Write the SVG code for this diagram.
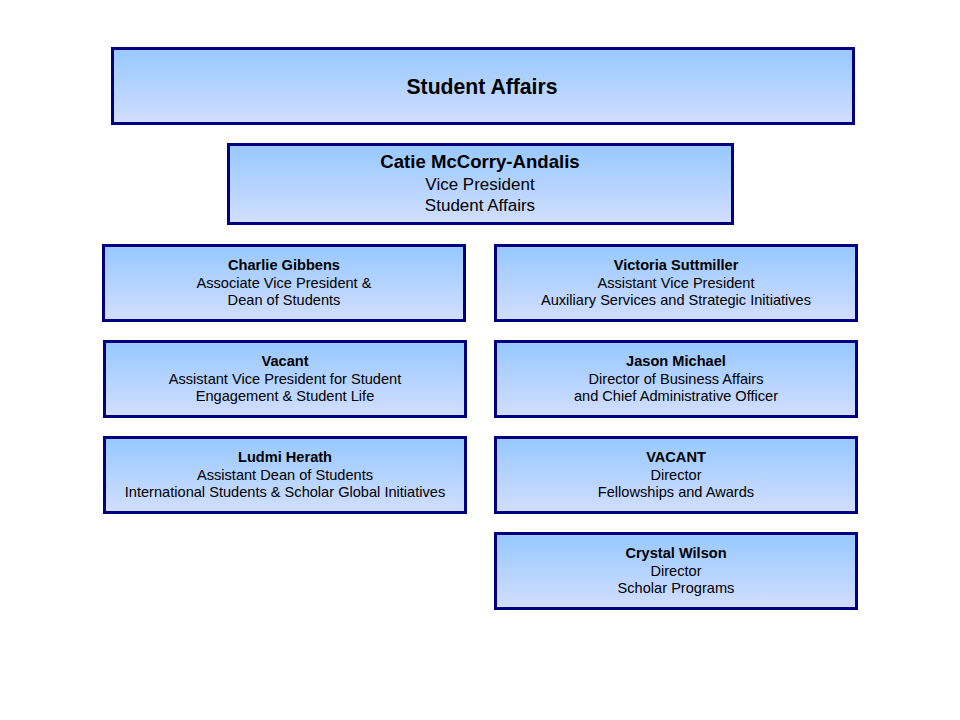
<svg xmlns="http://www.w3.org/2000/svg" width="960" height="720" viewBox="0 0 960 720">
<defs>
<linearGradient id="g" x1="0" y1="0" x2="0" y2="1">
<stop offset="0" stop-color="#96C8FF"/>
<stop offset="1" stop-color="#D2DEFF"/>
</linearGradient>
</defs>
<style>
.box{fill:url(#g);stroke:#000080;stroke-width:3}
text{font-family:"Liberation Sans",Arial,sans-serif;fill:#000;text-anchor:middle}
.b{font-weight:bold}
.s{font-size:14.6px}
</style>
<rect width="960" height="720" fill="#fff"/>
<g id="connectors"></g>
<g id="student-affairs">
<rect class="box" x="112.5" y="48.5" width="741" height="75"/>
<text class="b" x="482" y="94" font-size="21.2">Student Affairs</text>
</g>
<g id="catie">
<rect class="box" x="228.5" y="144.5" width="504" height="79"/>
<text class="b" x="480" y="168" font-size="18.6">Catie McCorry-Andalis</text>
<text x="480" y="190" font-size="17">Vice President</text>
<text x="480" y="211" font-size="17">Student Affairs</text>
</g>
<g id="charlie">
<rect class="box" x="103.5" y="245.5" width="361" height="75"/>
<text class="s b" x="284" y="270">Charlie Gibbens</text>
<text class="s" x="284" y="288">Associate Vice President &amp;</text>
<text class="s" x="284" y="305">Dean of Students</text>
</g>
<g id="victoria">
<rect class="box" x="495.5" y="245.5" width="361" height="75"/>
<text class="s b" x="676" y="270">Victoria Suttmiller</text>
<text class="s" x="676" y="288">Assistant Vice President</text>
<text class="s" x="676" y="305">Auxiliary Services and Strategic Initiatives</text>
</g>
<g id="vacant1">
<rect class="box" x="104.5" y="341.5" width="361" height="75"/>
<text class="s b" x="285" y="366">Vacant</text>
<text class="s" x="285" y="384">Assistant Vice President for Student</text>
<text class="s" x="285" y="401">Engagement &amp; Student Life</text>
</g>
<g id="jason">
<rect class="box" x="495.5" y="341.5" width="361" height="75"/>
<text class="s b" x="676" y="366">Jason Michael</text>
<text class="s" x="676" y="384">Director of Business Affairs</text>
<text class="s" x="676" y="401">and Chief Administrative Officer</text>
</g>
<g id="ludmi">
<rect class="box" x="104.5" y="437.5" width="361" height="75"/>
<text class="s b" x="285" y="462">Ludmi Herath</text>
<text class="s" x="285" y="480">Assistant Dean of Students</text>
<text class="s" x="285" y="497">International Students &amp; Scholar Global Initiatives</text>
</g>
<g id="vacant2">
<rect class="box" x="495.5" y="437.5" width="361" height="75"/>
<text class="s b" x="676" y="462">VACANT</text>
<text class="s" x="676" y="480">Director</text>
<text class="s" x="676" y="497">Fellowships and Awards</text>
</g>
<g id="crystal">
<rect class="box" x="495.5" y="533.5" width="361" height="75"/>
<text class="s b" x="676" y="558">Crystal Wilson</text>
<text class="s" x="676" y="576">Director</text>
<text class="s" x="676" y="593">Scholar Programs</text>
</g>
</svg>
